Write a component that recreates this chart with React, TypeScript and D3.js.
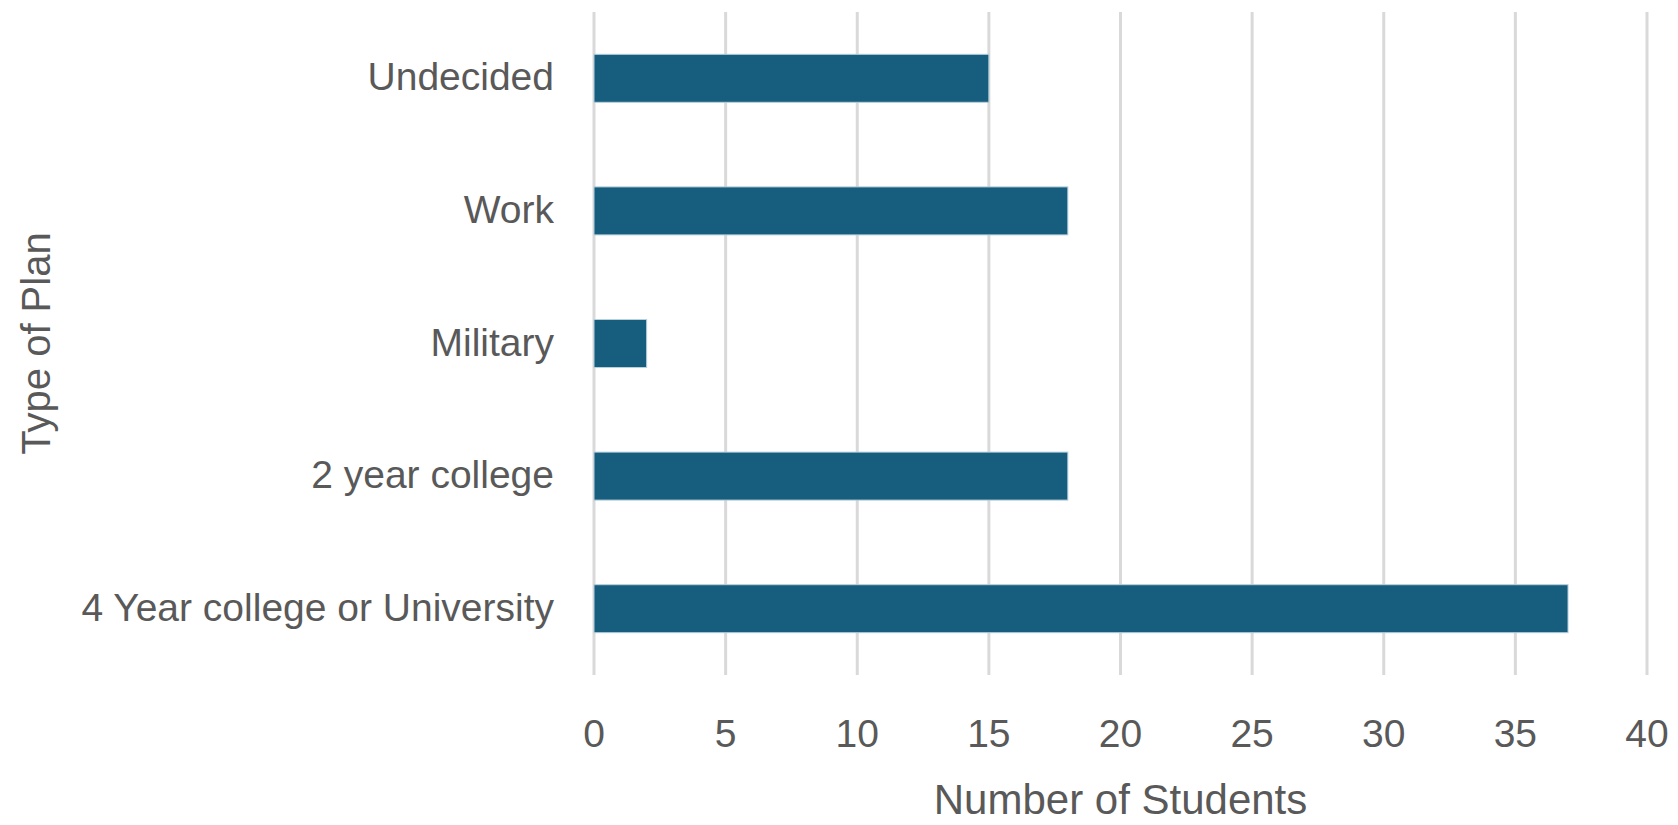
import * as d3 from "d3"

const W = 1678
const H = 825

// categories top to bottom
const categories = ["Undecided", "Work", "Military", "2 year college", "4 Year college or University"]
const students = [15, 18, 2, 18, 37]
const xTicks = [0, 5, 10, 15, 20, 25, 30, 35, 40]

const margin = { left: 594, right: W - 1647, top: 12, bottom: H - 675 }
const FONT = "'Liberation Sans', Arial, sans-serif"
const TEXT = "#595959"

export default function App() {
  const x = d3.scaleLinear().domain([0, 40]).range([margin.left, W - margin.right])
  const y = d3.scaleBand<string>()
    .domain(categories)
    .range([margin.top, H - margin.bottom])
    .paddingInner(0.638)
    .paddingOuter(0.319)

  const plotBottom = H - margin.bottom

  return (
    <svg width={W} height={H} style={{ position: "absolute", left: 0, top: 0, background: "#fff" }}
      fontFamily={FONT}>
      {/* gridlines */}
      <g>
        {xTicks.map((t) => (
          <line key={t} x1={x(t)} x2={x(t)} y1={margin.top} y2={plotBottom}
            stroke="#d9d9d9" strokeWidth={3} />
        ))}
      </g>

      {/* bars */}
      <g>
        {categories.map((c, i) => (
          <rect key={c} x={x(0)} y={y(c)} width={x(students[i]) - x(0)} height={y.bandwidth()}
            fill="#175e7e" stroke="#b7d0dc" strokeWidth={1} />
        ))}
      </g>

      {/* category labels */}
      <g fill={TEXT} fontSize={39} textAnchor="end">
        {categories.map((c) => (
          <text key={c} x={x(0) - 40} y={(y(c) ?? 0) + y.bandwidth() / 2 + 12}>{c}</text>
        ))}
      </g>

      {/* x tick labels */}
      <g fill={TEXT} fontSize={39} textAnchor="middle">
        {xTicks.map((t) => (
          <text key={t} x={x(t)} y={747}>{t}</text>
        ))}
      </g>

      {/* axis titles */}
      <text x={(x(0) + x(40)) / 2} y={814} fill={TEXT} fontSize={42} textAnchor="middle">
        Number of Students
      </text>
      <text transform={`translate(50,${(margin.top + plotBottom) / 2}) rotate(-90)`}
        fill={TEXT} fontSize={40} textAnchor="middle">
        Type of Plan
      </text>
    </svg>
  )
}
